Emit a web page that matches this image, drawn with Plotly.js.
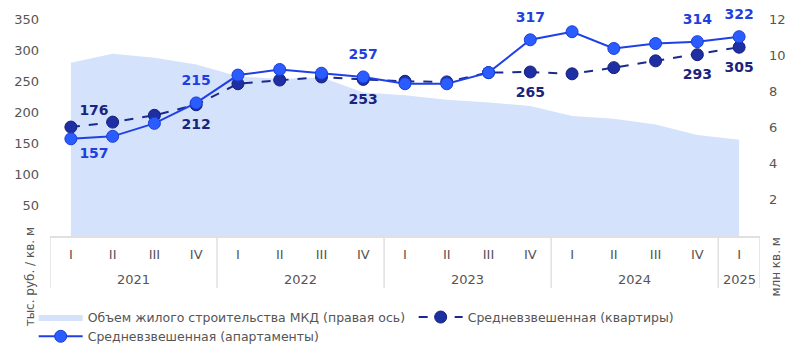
<!DOCTYPE html>
<html>
<head>
<meta charset="utf-8">
<script src="https://cdn.plot.ly/plotly-3.0.1.min.js"></script>
<style>html,body{margin:0;padding:0;background:#fff;}#chart{width:800px;height:358px;}</style>
</head>
<body>
<div id="chart"></div>
<script>
// Data
const years    = ['2021','2021','2021','2021','2022','2022','2022','2022','2023','2023','2023','2023','2024','2024','2024','2024','2025'];
const quarters = ['I','II','III','IV','I','II','III','IV','I','II','III','IV','I','II','III','IV','I'];
const volumeMkd  = [9.6, 10.1, 9.87, 9.5, 8.85, 8.7, 8.8, 7.95, 7.8, 7.55, 7.4, 7.2, 6.65, 6.5, 6.17, 5.6, 5.33];
const apartments = [157, 161, 182, 215, 260, 269, 263, 257, 246, 246, 264, 317, 330, 303, 311, 314, 322];
const flats      = [176, 184, 195, 212, 246, 252, 257, 253, 250, 249, 264, 265, 262, 272, 283, 293, 305];
const apartmentsLabels = ['157','','','215','','','','257','','','','317','','','','314','322'];
const flatsLabels      = ['176','','','212','','','','253','','','','265','','','','293','305'];
const apartmentsLabelPos = ['bottom right','top center','top center','top center','top center','top center','top center','top center','top center','top center','top center','top center','top center','top center','top center','top center','top center'];
const flatsLabelPos      = ['top right','bottom center','bottom center','bottom center','bottom center','bottom center','bottom center','bottom center','bottom center','bottom center','bottom center','bottom center','bottom center','bottom center','bottom center','bottom center','bottom center'];
const leftTicks  = [50, 100, 150, 200, 250, 300, 350];
const rightTicks = [2, 4, 6, 8, 10, 12];
const seriesNames = ['Объем жилого строительства МКД (правая ось)', 'Средневзвешенная (квартиры)', 'Средневзвешенная (апартаменты)'];
const leftTitle = 'тыс. руб. / кв. м';
const rightTitle = 'млн кв. м';

const FONT = 'DejaVu Sans, Verdana, sans-serif';
const GRAY = '#555';
const LINE_GRAY = '#e0e0e0';

// category positions (one slot per quarter)
const idx = quarters.map((q, i) => i);

// year groups: start / end index of each year
const groups = [];
years.forEach((y, i) => {
  if (!groups.length || groups[groups.length - 1].year !== y) groups.push({year: y, start: i, end: i});
  else groups[groups.length - 1].end = i;
});

// invisible spacer markers give the value labels their offset from the points
const labelTrace = (yv, txt, pos, color) => ({
  type: 'scatter', mode: 'markers+text', x: idx, y: yv, yaxis: 'y2',
  marker: {size: pos.map(p => p.indexOf('right') >= 0 ? 12 : 21), color: 'rgba(0,0,0,0)', line: {width: 0}},
  text: txt, textposition: pos,
  textfont: {family: FONT, size: 14, color: color, weight: 'bold'},
  showlegend: false, hoverinfo: 'skip', cliponaxis: false
});

const traces = [
  {
    type: 'scatter', mode: 'lines', name: seriesNames[0],
    x: idx, y: volumeMkd, yaxis: 'y',
    fill: 'tozeroy', fillcolor: '#d4e2fb',
    line: {width: 0, color: '#d4e2fb'},
    hoverinfo: 'skip'
  },
  {
    type: 'scatter', mode: 'lines+markers', name: seriesNames[1],
    x: idx, y: flats, yaxis: 'y2',
    line: {color: '#1a2a8c', width: 2, dash: 'dash'},
    marker: {size: 12, color: '#1d2fa3', line: {color: '#14207a', width: 1}},
    hoverinfo: 'skip'
  },
  {
    type: 'scatter', mode: 'lines+markers', name: seriesNames[2],
    x: idx, y: apartments, yaxis: 'y2',
    line: {color: '#1f40e6', width: 2},
    marker: {size: 12, color: '#2a5cff', line: {color: '#1a3fd6', width: 1}},
    hoverinfo: 'skip'
  },
  labelTrace(flats, flatsLabels, flatsLabelPos, '#1a237e'),
  labelTrace(apartments, apartmentsLabels, apartmentsLabelPos, '#1f3fe0')
];

// group dividers (at year boundaries, plus both ends) and year labels
const dividerX = [groups[0].start - 0.5].concat(groups.map(g => g.end + 0.5));
const shapes = dividerX.map(xv => ({
  type: 'line', xref: 'x', yref: 'paper', x0: xv, x1: xv, y0: 0, y1: -0.227,
  line: {color: LINE_GRAY, width: 1.5}, layer: 'above'
}));
const yearAnnotations = groups.map(g => ({
  text: g.year, xref: 'x', yref: 'paper', x: (g.start + g.end) / 2, y: -0.19,
  xanchor: 'center', yanchor: 'middle', showarrow: false,
  font: {family: FONT, size: 13, color: GRAY}
}));

const layout = {
  width: 800, height: 358,
  margin: {l: 50, r: 40, t: 7, b: 122},
  paper_bgcolor: '#fff', plot_bgcolor: '#fff',
  font: {family: FONT, size: 13, color: GRAY},
  showlegend: true,
  legend: {
    orientation: 'h', x: -0.023, xanchor: 'left', xref: 'paper',
    y: -0.29, yanchor: 'top',
    font: {family: FONT, size: 12.5, color: GRAY},
    entrywidth: 321, entrywidthmode: 'pixels',
    tracegroupgap: 0, itemwidth: 44
  },
  xaxis: {
    type: 'linear', range: [-0.5, quarters.length - 0.5], automargin: false,
    tickmode: 'array', tickvals: idx, ticktext: quarters,
    showgrid: false, zeroline: false,
    showline: true, linecolor: LINE_GRAY, linewidth: 1.5,
    tickfont: {family: FONT, size: 13, color: GRAY},
    ticks: '', ticklabelstandoff: 6
  },
  yaxis: {
    side: 'right', range: [0, 370/350*12], automargin: false,
    tickvals: rightTicks, showgrid: false, zeroline: false, showline: false,
    tickfont: {family: FONT, size: 13, color: GRAY},
    ticklabelstandoff: 8
  },
  yaxis2: {
    overlaying: 'y', side: 'left', range: [0, 370], automargin: false,
    tickvals: leftTicks, showgrid: false, zeroline: false, showline: false,
    tickfont: {family: FONT, size: 13, color: GRAY},
    ticklabelstandoff: 10
  },
  shapes: shapes,
  annotations: yearAnnotations.concat([
    {text: leftTitle, xref: 'paper', yref: 'paper', x: -0.028, y: -0.18, xanchor: 'center', yanchor: 'middle', textangle: -90, showarrow: false, font: {family: FONT, size: 12, color: GRAY}},
    {text: rightTitle, xref: 'paper', yref: 'paper', x: 1.022, y: -0.135, xanchor: 'center', yanchor: 'middle', textangle: -90, showarrow: false, font: {family: FONT, size: 12, color: GRAY}}
  ])
};

Plotly.newPlot('chart', traces, layout, {displayModeBar: false, staticPlot: true});
</script>
</body>
</html>
